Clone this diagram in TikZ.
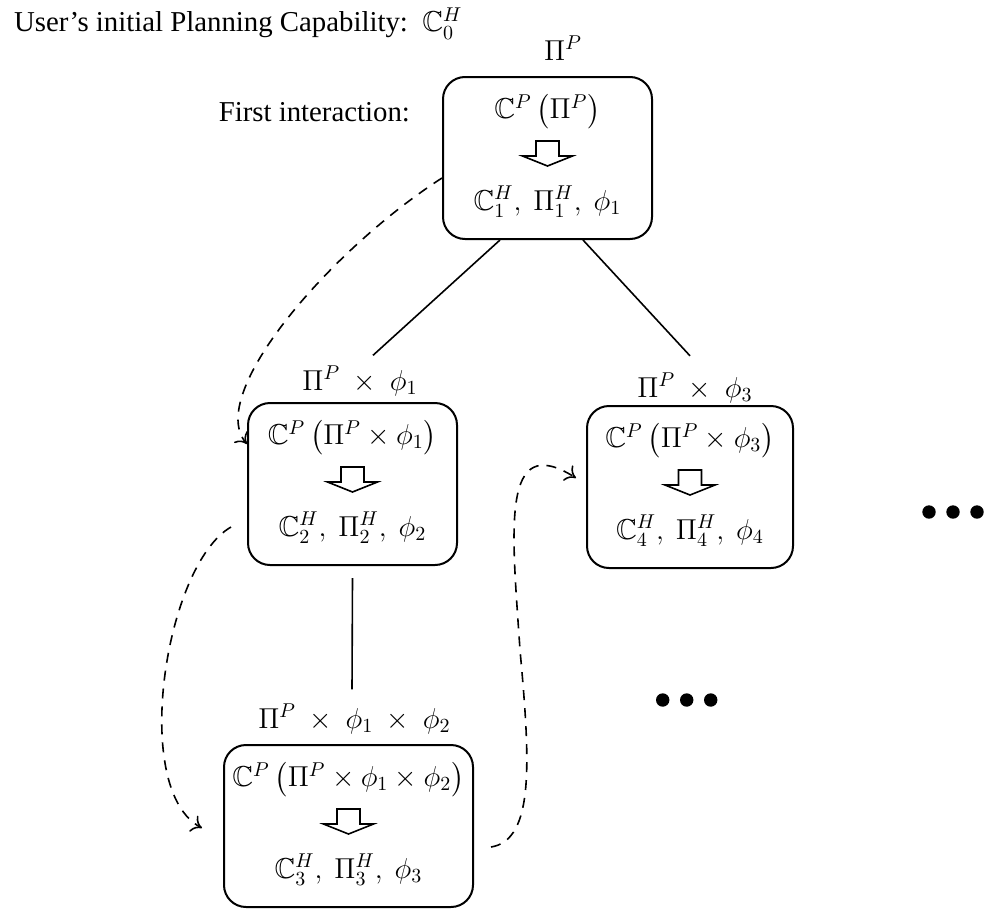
\documentclass[tikz,border=0pt]{standalone}
\usepackage{amsmath}
\usepackage{amssymb}
\usepackage{fontspec}
\setmainfont{Liberation Serif}
\usetikzlibrary{arrows.meta}

\tikzset{
  stage/.style={draw,line width=1pt,rounded corners=11pt,minimum width=104.5pt,minimum height=81pt},
  inbox/.style={anchor=base,inner sep=1pt},
  downarr/.pic={\draw[line width=0.8pt] (-11.5,12.5) -- (11.5,12.5) -- (11.5,-2.5) -- (25,-2.5) -- (0,-12.5) -- (-25,-2.5) -- (-11.5,-2.5) -- cycle;},
  feedback/.style={line width=0.8pt,dash pattern=on 5pt off 4pt,-{To[length=5pt,width=9pt]}}
}

\begin{document}
\begin{tikzpicture}[x=0.5pt,y=0.5pt,font=\fontsize{14.4}{17}\selectfont]
  \useasboundingbox (0,0) rectangle (984,-910);
  \node[anchor=base west] (cap) at (7,-32) {User's initial Planning Capability:\ \ $\mathbb{C}_0^H$};
  \node[anchor=base east] (first) at (417,-121) {First interaction:};

  \node[stage] (b1) at (547.5,-158) {};
  \node[stage] (b2) at (352.5,-484) {};
  \node[stage,minimum width=103pt] (b3) at (690,-487) {};
  \node[stage,minimum width=124.5pt] (b4) at (348.5,-826) {};

  \node[anchor=base] (l1) at (563,-60) {$\Pi^P$};
  \node[anchor=base] (l2) at (360,-390) {$\Pi^P\ \times\ \phi_1$};
  \node[anchor=base] (l3) at (695,-397) {$\Pi^P\ \times\ \phi_3$};
  \node[anchor=base] (l4) at (354.5,-728) {$\Pi^P\ \times\ \phi_1\ \times\ \phi_2$};

  \node[inbox] (b1t) at ([yshift=-21.25pt]b1.north) {$\mathbb{C}^P\left(\Pi^P\right)$};
  \pic at ([yshift=-38.75pt]b1.north) {downarr};
  \node[inbox] (b1b) at ([yshift=-67pt]b1.north) {$\mathbb{C}^H_1,\ \Pi^H_1,\ \phi_1$};

  \node[inbox] (b2t) at ([yshift=-21.25pt]b2.north) {$\mathbb{C}^P\left(\Pi^P \times \phi_1\right)$};
  \pic at ([yshift=-38.75pt]b2.north) {downarr};
  \node[inbox] (b2b) at ([yshift=-67pt]b2.north) {$\mathbb{C}^H_2,\ \Pi^H_2,\ \phi_2$};

  \node[inbox] (b3t) at ([yshift=-21.25pt]b3.north) {$\mathbb{C}^P\left(\Pi^P \times \phi_3\right)$};
  \pic at ([yshift=-38.75pt]b3.north) {downarr};
  \node[inbox] (b3b) at ([yshift=-67pt]b3.north) {$\mathbb{C}^H_4,\ \Pi^H_4,\ \phi_4$};

  \node[inbox] (b4t) at ([yshift=-21.25pt]b4.north) {$\mathbb{C}^P\left(\Pi^P \times \phi_1 \times \phi_2\right)$};
  \pic at ([yshift=-38.75pt]b4.north) {downarr};
  \node[inbox] (b4b) at ([yshift=-67pt]b4.north) {$\mathbb{C}^H_3,\ \Pi^H_3,\ \phi_3$};

  \draw[line width=0.8pt] ([xshift=-23.75pt]b1.south) -- ([xshift=6.5pt,yshift=1.75pt]l2.north);
  \draw[line width=0.8pt] ([xshift=17.75pt]b1.south) -- ([xshift=-2.5pt,yshift=5pt]l3.north);
  \draw[line width=0.8pt] ([yshift=-6pt]b2.south) -- ([xshift=-1.25pt,yshift=3.75pt]l4.north);

  \draw[feedback] ([yshift=-10pt]b1.west) .. controls (330,-250) and (205,-395) .. ([yshift=20pt]b2.west);
  \draw[feedback] ([xshift=-8pt,yshift=-21.5pt]b2.west) .. controls (165,-565) and (130,-790) .. ([xshift=-10.5pt,yshift=-1pt]b4.west);
  \draw[feedback] ([xshift=8.5pt,yshift=-10.5pt]b4.east) .. controls (535,-840) and (530,-760) .. (520,-650) .. controls (512,-530) and (500,-430) .. ([xshift=-5pt,yshift=4.5pt]b3.west);

  \foreach \x in {0,1,2} {
    \fill (662.7+24*\x,-700) circle (6.7);
    \fill (929+24*\x,-512) circle (6.7);
  }
\end{tikzpicture}
\end{document}
